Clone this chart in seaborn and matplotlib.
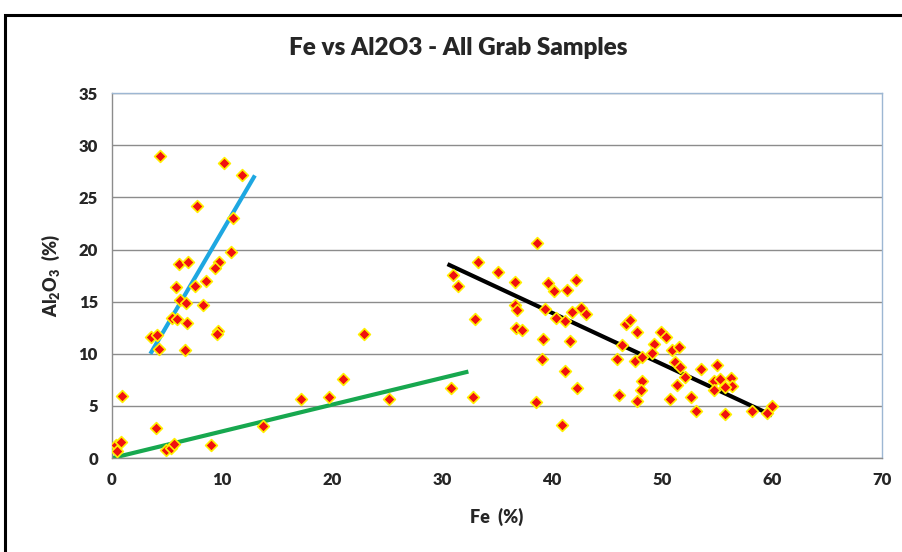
import numpy as np
import pandas as pd
import matplotlib
matplotlib.use("Agg")
import matplotlib.pyplot as plt
import seaborn as sns
from matplotlib.patches import Rectangle

# grab sample assays
fe = [4.4, 10.2, 11.8, 7.7, 11.0, 10.8, 6.1, 6.9, 9.7, 9.4, 8.6, 7.6, 5.8, 6.2, 6.7, 8.3,
      5.45, 5.9, 6.8, 9.65, 9.55, 3.55, 4.1, 4.3, 6.65, 0.9, 4.0, 0.4, 0.8, 0.5, 4.9, 5.4,
      5.65, 9.05,
      13.75, 17.2, 19.7, 21.0, 22.9, 25.2,
      30.8, 32.8, 30.97, 31.45, 33.3, 35.1, 36.6, 38.65, 39.6, 40.2, 41.4, 42.15, 36.6, 36.8,
      39.4, 40.4, 41.2, 41.85, 42.6, 43.05, 33.0, 36.7, 37.3, 39.2, 41.6, 39.1, 41.2, 42.3,
      38.5, 40.9,
      45.9, 46.1, 46.4, 46.7, 47.1, 47.7, 49.9, 50.4, 49.3, 49.05, 50.9, 51.5, 47.5, 48.2,
      51.2, 51.6, 53.5, 55.0, 48.15, 48.1, 51.4, 52.1, 54.7, 55.3, 56.3, 56.4, 55.7, 54.7,
      47.75, 50.7, 52.6, 53.1, 55.75, 58.15, 60.0, 59.5]
al2o3 = [29.0, 28.3, 27.1, 24.2, 23.0, 19.75, 18.6, 18.8, 18.85, 18.2, 17.0, 16.5, 16.4, 15.2, 14.9, 14.7,
         13.4, 13.3, 12.97, 12.15, 11.9, 11.57, 11.8, 10.45, 10.35, 5.97, 2.9, 1.25, 1.56, 0.7, 0.77, 0.93,
         1.4, 1.25,
         3.1, 5.66, 5.88, 7.54, 11.9, 5.66,
         6.7, 5.9, 17.6, 16.5, 18.8, 17.8, 16.85, 20.6, 16.75, 16.05, 16.1, 17.1, 14.7, 14.2,
         14.25, 13.4, 13.1, 14.0, 14.35, 13.8, 13.3, 12.5, 12.3, 11.4, 11.2, 9.46, 8.37, 6.75,
         5.37, 3.2,
         9.5, 6.1, 10.8, 12.9, 13.2, 12.05, 12.05, 11.6, 10.9, 10.1, 10.35, 10.7, 9.3, 9.7,
         9.2, 8.7, 8.5, 8.9, 7.35, 6.5, 7.06, 7.8, 7.4, 7.6, 7.7, 6.9, 6.84, 6.5,
         5.47, 5.66, 5.85, 4.54, 4.28, 4.54, 4.99, 4.35]

# hand-drawn trend lines (start / end)
trend_names = ["blue", "green", "black"]
trend_fe = [[3.5, 13.0], [0.0, 32.4], [30.5, 60.0]]
trend_al = [[10.0, 27.1], [0.0, 8.3], [18.6, 4.1]]
trend_colors = ["#1ea7e1", "#17a84f", "#000000"]

df = pd.DataFrame({"Fe": fe, "Al2O3": al2o3})

sns.set_theme(style="white")
plt.rcParams['font.family'] = ['Lato', 'DejaVu Sans']
plt.rcParams['font.weight'] = 'heavy'
plt.rcParams['mathtext.default'] = 'regular'

fig = plt.figure(figsize=(9.02, 5.52), dpi=100)
ax = fig.add_axes([0.124, 0.170, 0.854, 0.6615])

ax.yaxis.grid(True, color="#8c8c8c", linewidth=1.0)
ax.set_axisbelow(True)

for xs, ys, c in zip(trend_fe, trend_al, trend_colors):
    ax.plot(xs, ys, color=c, linewidth=3.0, solid_capstyle="butt", zorder=2)

sns.scatterplot(data=df, x="Fe", y="Al2O3", ax=ax, marker="D", s=36,
                color="#f01010", edgecolor="#ffee00", linewidth=1.2, zorder=3)

ax.set_xlim(0, 70)
ax.set_ylim(0, 35)
ax.set_xticks(np.arange(0, 71, 10))
ax.set_yticks(np.arange(0, 36, 5))
ax.tick_params(axis="both", length=0, labelsize=12, pad=10)
for lab in ax.get_xticklabels() + ax.get_yticklabels():
    lab.set_fontweight("heavy")

ax.spines["left"].set_color("#8c8c8c")
ax.spines["bottom"].set_color("#8c8c8c")
ax.spines["top"].set_color("#9db7d3")
ax.spines["right"].set_color("#9db7d3")
for s in ax.spines.values():
    s.set_linewidth(1.0)

ax.set_xlabel("Fe  (%)", fontsize=13, fontweight="heavy", labelpad=14)
ax.set_ylabel("Al$_2$O$_3$  (%)", fontsize=13, fontweight="heavy", labelpad=12)
fig.text(0.508, 0.913, "Fe vs Al2O3 - All Grab Samples", ha="center", va="center",
         fontsize=17.5, fontweight="heavy")

# outer chart frame
fig.patches.append(Rectangle((5 / 902, -0.1), 1.2, 1.1 - 15 / 552, transform=fig.transFigure,
                             fill=False, edgecolor="black", linewidth=2.2))

fig.savefig("out.png", dpi=100)
